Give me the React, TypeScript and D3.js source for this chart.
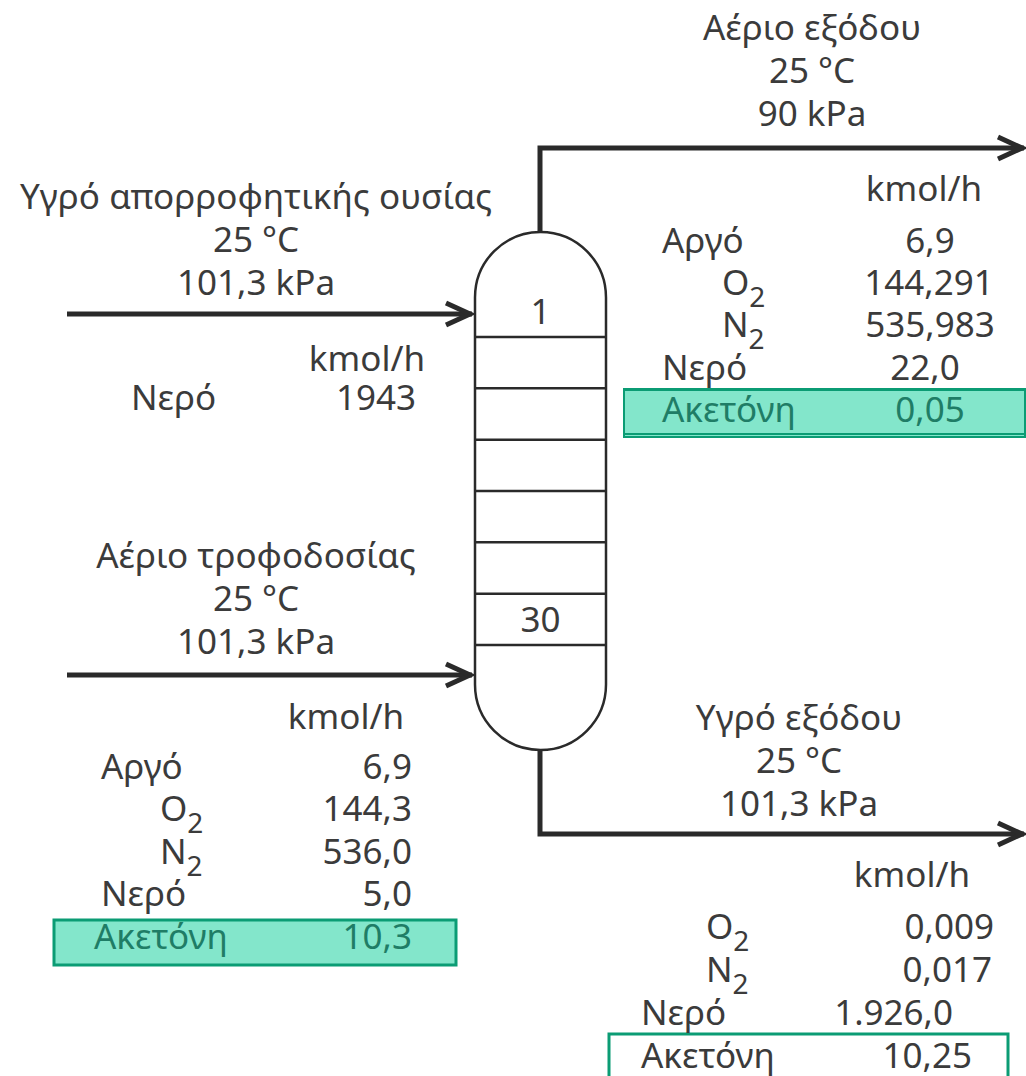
import * as React from 'react';
import { useRef, useEffect } from 'react';
import * as d3 from 'd3';

const WIDTH = 1026;
const HEIGHT = 1076;
const INK = '#3b3b3b';
const LINE = '#2a2a2a';
const BOX_FILL = '#83e6cb';
const BOX_STROKE = '#0b9c74';
const BOX_TEXT = '#1f7d66';
const FONT = '"Noto Sans", sans-serif';
const UNIT = 'kmol/h';

// Stream headings
const outGasTitle = ['Αέριο εξόδου', '25 °C', '90 kPa'];
const absorbentTitle = ['Υγρό απορροφητικής ουσίας', '25 °C', '101,3 kPa'];
const feedGasTitle = ['Αέριο τροφοδοσίας', '25 °C', '101,3 kPa'];
const outLiquidTitle = ['Υγρό εξόδου', '25 °C', '101,3 kPa'];

// Stream tables
const outGasNames = ['Αργό', 'O2', 'N2', 'Νερό', 'Ακετόνη'];
const outGasValues = ['6,9', '144,291', '535,983', '22,0', '0,05'];
const absorbentNames = ['Νερό'];
const absorbentValues = ['1943'];
const feedGasNames = ['Αργό', 'O2', 'N2', 'Νερό', 'Ακετόνη'];
const feedGasValues = ['6,9', '144,3', '536,0', '5,0', '10,3'];
const outLiquidNames = ['O2', 'N2', 'Νερό', 'Ακετόνη'];
const outLiquidValues = ['0,009', '0,017', '1.926,0', '10,25'];

// Column trays: numbered first and last, seven divider lines
const trayDividers = [0, 1, 2, 3, 4, 5, 6];
const trayLabels = [{ label: '1', at: -0.5 }, { label: '30', at: 5.5 }];

const App = () => {
  const svgRef = useRef<SVGSVGElement>(null);

  useEffect(() => {
    const svg = d3.select(svgRef.current);
    svg.selectAll('*').remove();

    const colLeft = 475;
    const colRight = 606;
    const colTop = 232;
    const colBottom = 750;
    const colMid = (colLeft + colRight) / 2;
    const radius = (colRight - colLeft) / 2;

    const trayY = d3.scaleLinear().domain([0, 6]).range([337, 645]);

    // Highlight boxes go under the text
    const box = (x: number, y: number, w: number, h: number, fill: string, sw = 3) =>
      svg.append('rect').attr('x', x).attr('y', y).attr('width', w).attr('height', h)
        .attr('fill', fill).attr('stroke', BOX_STROKE).attr('stroke-width', sw);
    box(624, 390, 401, 47, BOX_FILL, 2);
    box(624, 389, 401, 45, 'none', 2); // the top box has a doubled outline
    box(54, 920, 402, 45, BOX_FILL);
    box(609, 1034, 399, 60, 'none');

    // Column shell
    const shell = d3.path();
    shell.moveTo(colLeft, colTop + radius);
    shell.arc(colMid, colTop + radius, radius, Math.PI, 0);
    shell.lineTo(colRight, colBottom - radius);
    shell.arc(colMid, colBottom - radius, radius, 0, Math.PI);
    shell.closePath();
    svg.append('path').attr('d', shell.toString())
      .attr('fill', 'none').attr('stroke', LINE).attr('stroke-width', 2.5);

    svg.append('g').selectAll('line').data(trayDividers).join('line')
      .attr('x1', colLeft).attr('x2', colRight)
      .attr('y1', (d) => trayY(d)).attr('y2', (d) => trayY(d))
      .attr('stroke', LINE).attr('stroke-width', 2.5);

    // Pipes with open arrow heads
    const pipe = d3.line();
    const arrow = (pts: [number, number][]) => {
      const [tx, ty] = pts[pts.length - 1];
      svg.append('path').attr('d', pipe(pts))
        .attr('fill', 'none').attr('stroke', LINE).attr('stroke-width', 5)
        .attr('stroke-linejoin', 'miter');
      svg.append('path')
        .attr('d', pipe([[tx - 26, ty - 11], [tx - 2, ty], [tx - 26, ty + 11]]))
        .attr('fill', 'none').attr('stroke', LINE).attr('stroke-width', 5);
    };
    arrow([[540, colTop], [540, 148], [1024, 148]]);
    arrow([[540, colBottom], [540, 834], [1024, 834]]);
    arrow([[67, 314], [472, 314]]);
    arrow([[67, 675], [472, 675]]);

    const text = (x: number, y: number, s: string, anchor = 'middle', color = INK) => {
      const t = svg.append('text').attr('x', x).attr('y', y)
        .attr('text-anchor', anchor).attr('fill', color)
        .attr('font-family', FONT).attr('font-size', 35);
      const sub = s.match(/^([ON])2$/);
      if (sub) {
        t.append('tspan').text(sub[1]);
        t.append('tspan').text('2').attr('dy', 12).attr('font-size', 28);
      } else {
        t.text(s);
      }
    };

    trayLabels.forEach((d) => text(colMid, trayY(d.at) + 13, d.label));

    const title = (lines: string[], x: number, y: number) =>
      lines.forEach((s, i) => text(x, y + i * 43, s));
    title(outGasTitle, 812, 40);
    title(absorbentTitle, 256, 209);
    title(feedGasTitle, 256, 568);
    title(outLiquidTitle, 799, 730);

    const table = (
      names: string[], values: string[],
      nameX: number[], valueX: number[], anchor: string,
      rowY: d3.ScaleLinear<number, number>, highlight: number,
    ) => {
      names.forEach((n, i) => {
        const color = i === highlight ? BOX_TEXT : INK;
        text(nameX[i], rowY(i), n, 'start', color);
        text(valueX[i], rowY(i), values[i], anchor, color);
      });
    };

    const row = (first: number, step: number) =>
      d3.scaleLinear().domain([0, 1]).range([first, first + step]);

    text(924, 201, UNIT);
    table(outGasNames, outGasValues,
      [662, 722, 722, 662, 662], [930, 929, 930, 925, 930], 'middle',
      row(253, 42.2), 4);

    text(367, 371, UNIT);
    table(absorbentNames, absorbentValues, [131], [376], 'middle', row(410, 42), -1);

    text(346, 729, UNIT);
    table(feedGasNames, feedGasValues,
      [101, 160, 160, 101, 94], [412, 412, 412, 412, 412], 'end',
      row(779, 42.4), 4);

    text(912, 887, UNIT);
    table(outLiquidNames, outLiquidValues,
      [706, 706, 641, 641], [994, 992, 953, 972], 'end',
      row(939, 43), -1);
  }, []);

  return (
    <svg
      ref={svgRef}
      width={WIDTH}
      height={HEIGHT}
      style={{ position: 'absolute', left: 0, top: 0, background: '#fff' }}
    />
  );
};

export default App;
